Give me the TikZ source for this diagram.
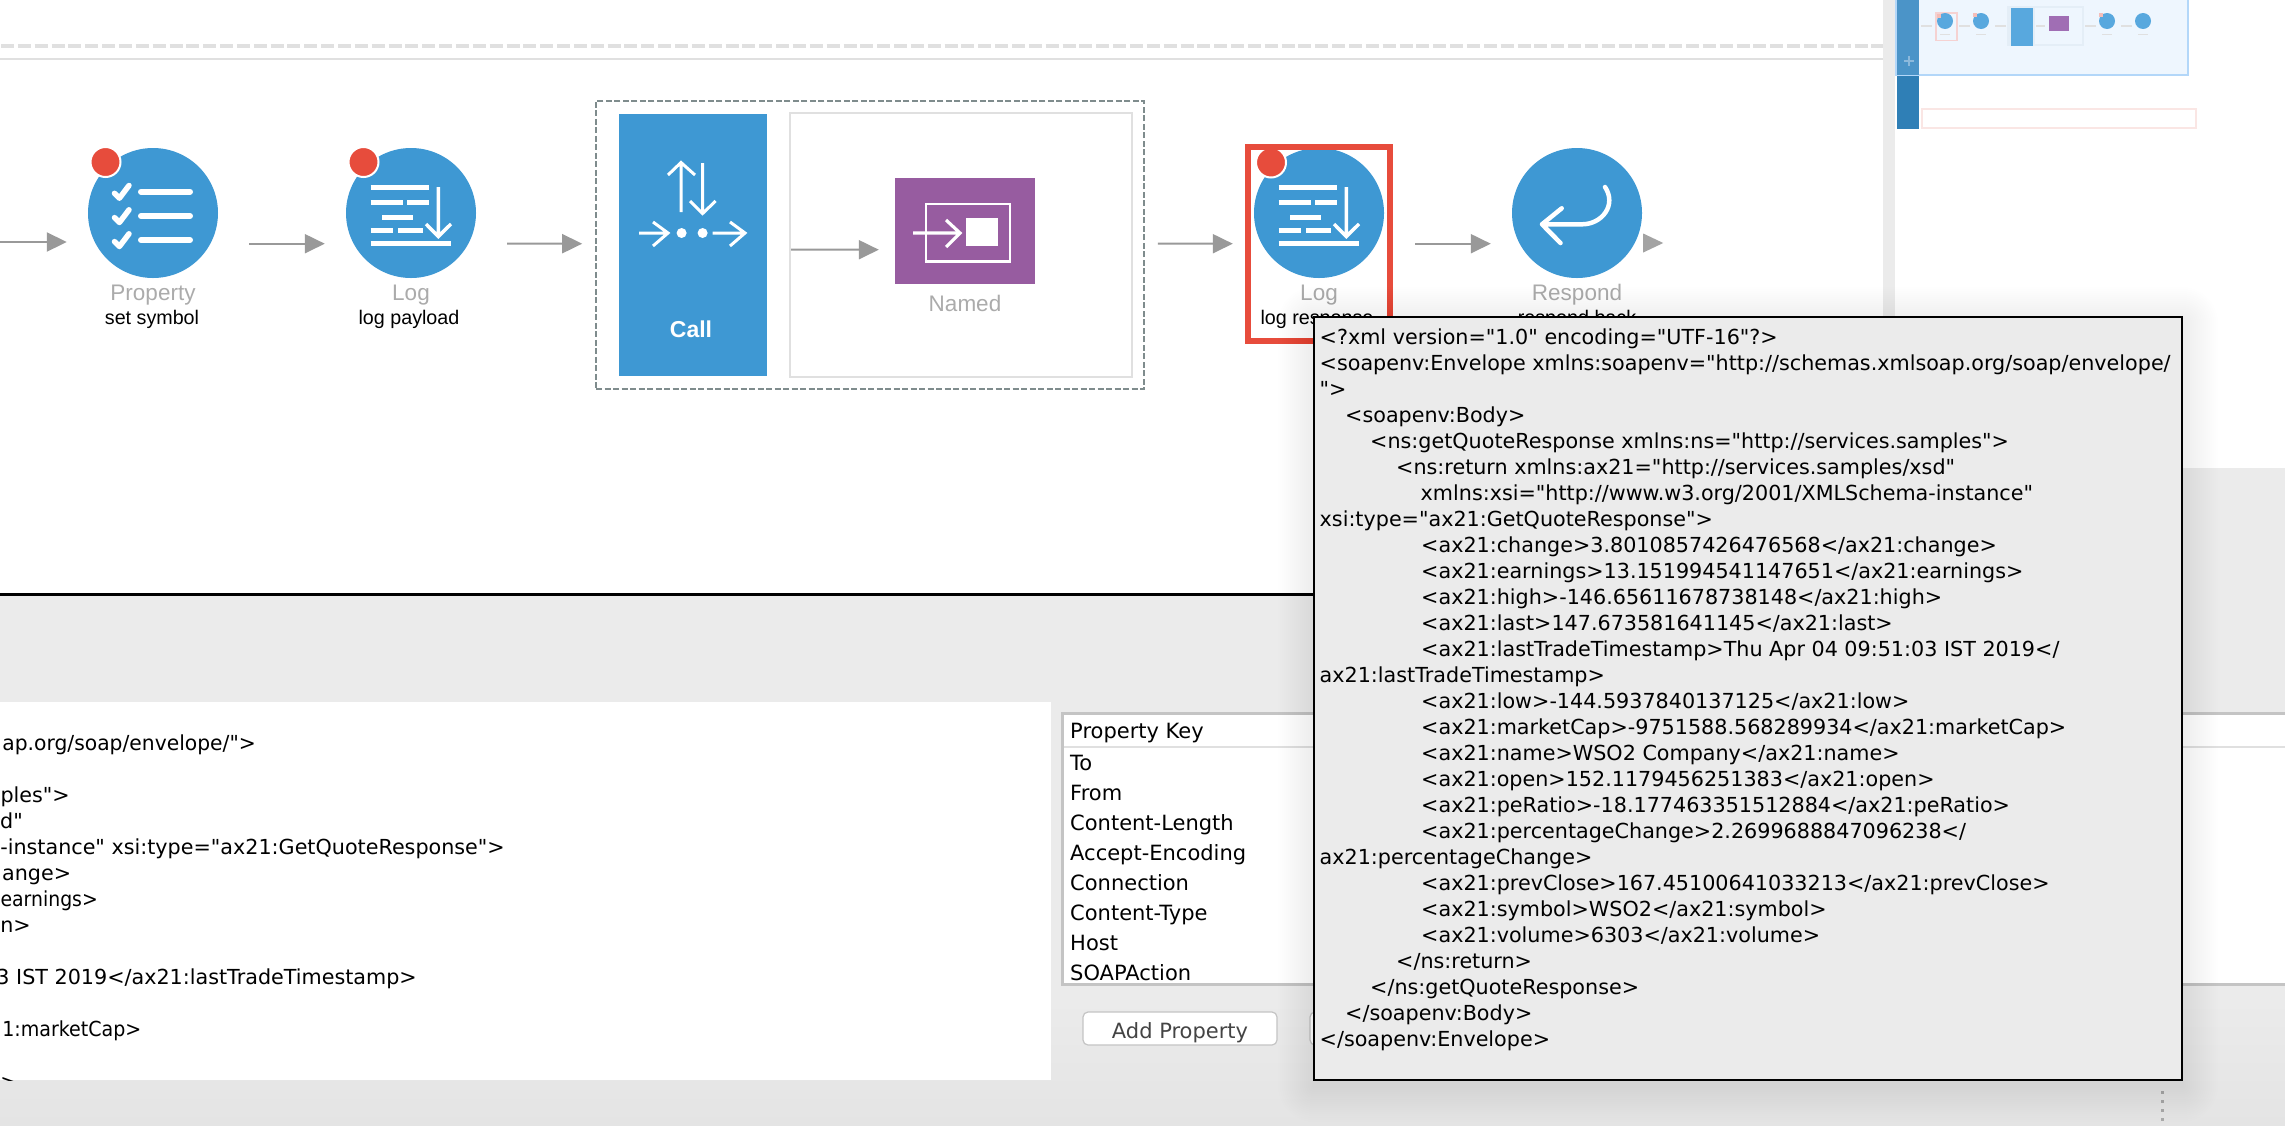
\documentclass[tikz,border=0pt]{standalone}
\usepackage{fontspec}
\usepackage{graphicx}
\setmainfont{Liberation Sans}
\newfontfamily\uisans{DejaVu Sans}
\usetikzlibrary{arrows.meta}
\definecolor{nodeblue}{HTML}{3E98D3}
\definecolor{alertred}{HTML}{E74C3C}
\definecolor{flowgray}{HTML}{999999}
\definecolor{capgray}{HTML}{ABABAB}
\definecolor{panelgray}{HTML}{EBEBEB}
\definecolor{panelgraylow}{HTML}{E4E4E4}
\definecolor{rulegray}{HTML}{E0E0E0}
\definecolor{tablegray}{HTML}{C4C4C4}
\definecolor{dashgray}{HTML}{7F8C8D}
\definecolor{callpurple}{HTML}{975CA0}
\newcommand{\fsz}[1]{\fontsize{#1pt}{#1pt}\selectfont}
\newcommand{\usz}[1]{\uisans\fontsize{#1pt}{#1pt}\selectfont}
\tikzset{
  flow/.style={draw=flowgray,line width=2pt,-{Triangle[length=20pt,width=19pt,fill=flowgray]}},
  mednode/.style={circle,fill=nodeblue,minimum size=130pt,inner sep=0pt},
  alertdot/.style={circle,fill=alertred,draw=white,line width=2pt,minimum size=30pt,inner sep=0pt},
  captype/.style={inner sep=0pt,anchor=base,text=capgray,font=\fsz{22.5}},
  capname/.style={inner sep=0pt,anchor=base,text=black,font=\fsz{19.7}},
  iconline/.style={draw=white,line width=5.5pt},
  poptxt/.style={inner sep=0pt,anchor=base west,text=black,font=\usz{20.7}},
  leftxt/.style={inner sep=0pt,anchor=base east,text=black,font=\usz{20.7}},
  tbltxt/.style={inner sep=0pt,anchor=base west,text=black,font=\usz{21}},
  logicon/.pic={
    \draw[iconline] (-40.5,-25.3)--(18,-25.3) (-40.5,-10.3)--(-8.5,-10.3) (-4,-10.3)--(18,-10.3)
      (-29,4.7)--(2,4.7) (-40.5,17.3)--(-18.4,17.3) (-13,17.3)--(12,17.3) (-40.5,30.3)--(40,30.3);
    \draw[draw=white,line width=3.5pt] (27.3,-26)--(27.3,23) (15,11)--(27.3,23.5)--(40,11);
  },
  propicon/.pic={
    \foreach \ry in {-21.3,3,27}{
      \draw[draw=white,line width=6pt,line cap=round] (-12,\ry)--(37,\ry);
      \draw[draw=white,line width=5.5pt,line cap=round,line join=round]
        (-38.5,\ry+1.6)--(-33.6,\ry+6.5)--(-24,\ry-6.2);
    }
  },
  respicon/.pic={
    \draw[draw=white,line width=4.5pt,line cap=round,line join=round]
      (-15.3,-4.7)--(-35,11.3)--(-16.5,30)
      (-35,11.3)--(5,11.3) .. controls (25,11.3) and (40,-8) .. (28,-26);
  },
  miniarrow/.style={draw=rulegray,line width=2pt}
}
\newcommand{\poptext}[3]{\node[poptxt] (p#1) at (#2,{344+(#1-1)*26.01}) {#3};}
\begin{document}
\begin{tikzpicture}[x=1pt,y=-1pt]
\useasboundingbox (0,0) rectangle (2285,1125);
% backgrounds
\fill[white] (0,0) rectangle (2285,1125);
\fill[panelgray] (0,596) rectangle (1320,1125);
\fill[panelgray] (1320,468) rectangle (2285,1125);
\shade[top color=panelgray,bottom color=panelgraylow] (0,1000) rectangle (2285,1125);
\fill[panelgray] (1883,0) rectangle (1895,468);
\draw[rulegray,line width=4pt,dash pattern=on 13pt off 3.85pt] (1,46)--(1883,46);
\draw[rulegray,line width=2pt] (0,59)--(1883,59);
\draw[black,line width=2.5pt] (0,594.7)--(1320,594.7);

% sequence
\coordinate (in0) at (0,242);
\node[mednode] (prop) at (153,213) {};
\node[mednode] (log1) at (411,213) {};
\node[mednode] (log3) at (1319,213) {};
\node[mednode] (resp) at (1577,213) {};
\pic at (prop.center) {propicon};
\pic at (log1.center) {logicon};
\pic at (log3.center) {logicon};
\pic at (resp.center) {respicon};
\node[alertdot] (dot1) at (105.5,162) {};
\node[alertdot] (dot2) at (363.5,162) {};
\node[alertdot] (dot3) at (1271,162.5) {};
\node[captype] (tprop) at (153,300) {Property};
\node[capname] (nprop) at (152,324.3) {set symbol};
\node[captype] (tlog1) at (411,300) {Log};
\node[capname] (nlog1) at (409,324.3) {log payload};
\node[captype] (tlog3) at (1319,300) {Log};
\node[capname] (nlog3) at (1317,324.3) {log response};
\node[captype] (tresp) at (1577,300) {Respond};
\node[capname] (nresp) at (1577,324.3) {respond back};
\node[draw=alertred,line width=6pt,minimum width=142pt,minimum height=194pt,inner sep=0pt] (sel) at (1319,244) {};

% call block
\node[draw=dashgray,line width=1.6pt,dash pattern=on 6pt off 2.5pt,minimum width=548pt,minimum height=288.3pt,inner sep=0pt] (dash) at (870,244.85) {};
\node[fill=nodeblue,minimum width=148pt,minimum height=262pt,inner sep=0pt] (call) at (693,245) {};
\node[draw=rulegray,line width=2.5pt,fill=white,minimum width=342pt,minimum height=264pt,inner sep=0pt] (seqbox) at (961,245) {};
\node[fill=callpurple,minimum width=140pt,minimum height=105.7pt,inner sep=0pt] (named) at (965,230.85) {};
\node[inner sep=0pt,anchor=base,text=white,font=\fsz{23}\bfseries] (tcall) at (691,337) {Call};
\node[captype] (tnamed) at (965,311.7) {Named};
% call icon
\draw[draw=white,line width=3pt] (681,212)--(681,163) (668,175)--(681,162.5)--(695,175);
\draw[draw=white,line width=3pt] (702.6,163)--(702.6,213) (690,201)--(702.6,213.5)--(715.6,201);
\draw[draw=white,line width=3pt] (639,233)--(667,233) (653,222)--(668,233)--(653,246);
\draw[draw=white,line width=3pt] (712.5,233)--(744,233) (730,222)--(745,233)--(730,246);
\fill[white] (681.6,233) circle (5) (702.6,233) circle (5);
% named icon
\draw[draw=white,line width=2.6pt] (926,204) rectangle (1010,261.7);
\fill[white] (966,218) rectangle (998,245.7);
\draw[draw=white,line width=3.2pt] (913,233)--(959,233) (946,220)--(960,233)--(946,247);

% connectors
\draw[flow] (in0) -- ([shift={(-21,29)}]prop.west);
\draw[flow] ([shift={(31,30.7)}]prop.east) -- ([shift={(-21,30.7)}]log1.west);
\draw[flow] ([shift={(31,30.7)}]log1.east) -- ([shift={(-13,-1.15)}]dash.west);
\draw[flow] ([shift={(24,4.7)}]call.east) -- ([shift={(-16,18.85)}]named.west);
\draw[flow] ([shift={(13,-1.15)}]dash.east) -- ([shift={(-21,30.7)}]log3.west);
\draw[flow] ([shift={(31,30.7)}]log3.east) -- ([shift={(-21,30.7)}]resp.west);
\fill[flowgray!90] ([shift={(1,20.5)}]resp.east) -- ([shift={(21,30)}]resp.east) -- ([shift={(1,39.5)}]resp.east) -- cycle;

% minimap
\fill[fill={rgb,255:red,238;green,246;blue,254}] (1896,0) rectangle (2188,75);
\draw[draw={rgb,255:red,179;green,215;blue,249},line width=2pt] (1896,-2) -- (1896,75) -- (2188,75) -- (2188,-2);
\fill[fill={rgb,255:red,75;green,148;blue,200}] (1897,0) rectangle (1919,75);
\fill[fill={rgb,255:red,47;green,127;blue,182}] (1897,76) rectangle (1919,129);
\draw[draw={rgb,255:red,250;green,230;blue,228},line width=2pt] (1922,109) rectangle (2196,128);
\draw[draw={rgb,255:red,140;green,185;blue,220},line width=1.5pt] (1904,61)--(1914,61) (1909,56)--(1909,66);
\draw[draw={rgb,255:red,245;green,210;blue,210},line width=1.5pt] (1936,13) rectangle (1957,40.5);
\fill[fill={rgb,255:red,228;green,238;blue,247}] (2007,6) rectangle (2084,46);
\fill[fill={rgb,255:red,238;green,246;blue,254}] (2035,8) rectangle (2082,44);
\fill[fill={rgb,255:red,88;green,168;blue,222}] (2011,8) rectangle (2033,45.7);
\fill[fill={rgb,255:red,160;green,110;blue,180}] (2049,16) rectangle (2069,31);
\foreach \mx in {1945,1981,2107,2143}{
  \fill[fill={rgb,255:red,88;green,168;blue,222}] (\mx,21) circle (8);
}
\fill[fill={rgb,255:red,245;green,190;blue,185}] (1937,14) rectangle (1941,18);
\fill[fill={rgb,255:red,245;green,190;blue,185}] (1973,13) rectangle (1977,17);
\fill[fill={rgb,255:red,245;green,190;blue,185}] (2099,13) rectangle (2103,17);
\foreach \mx in {1921,1959,1995,2085,2121}{
  \draw[miniarrow] (\mx,25.5)--(\mx+11,25.5);
}
\draw[miniarrow] (2036,26)--(2045,26);
\foreach \mx in {1945,1981,2107,2143}{
  \draw[draw=rulegray,line width=1.2pt] (\mx-5,34.5)--(\mx+5,34.5);
}

% message panel
\fill[white] (0,702) rectangle (1051,1080);
\node[leftxt] (m1) at (256,750.6) {\scalebox{0.98}[1]{ap.org/soap/envelope/">}};
\node[leftxt] (m2) at (70,802.6) {ples">};
\node[leftxt] (m3) at (23,828.6) {d"};
\node[leftxt] (m4) at (505,854.6) {-instance" xsi:type="ax21:GetQuoteResponse">};
\node[leftxt] (m5) at (71.4,880.6) {ange>};
\node[leftxt] (m6) at (98,906.6) {\scalebox{0.91}[1]{earnings>}};
\node[leftxt] (m7) at (31,932.6) {n>};
\node[leftxt] (m8) at (417,984.6) {3 IST 2019</ax21:lastTradeTimestamp>};
\node[leftxt] (m9) at (141.6,1036.6) {\scalebox{0.92}[1]{1:marketCap>}};
\begin{scope}
\clip (0,702) rectangle (1051,1080);
\node[leftxt] (m10) at (18,1089) {>};
\end{scope}

% property table
\fill[white] (1061.7,713) rectangle (2290,985);
\draw[draw=tablegray,line width=2.4pt] (2290,713.5) -- (1062.5,713.5) -- (1062.5,984.5) -- (2290,984.5);
\draw[draw=rulegray,line width=1.5pt] (1064,747) -- (2285,747);
\begin{scope}
\clip (1064,715) rectangle (2285,982);
\node[tbltxt] (h0) at (1070,738.5) {Property Key};
\node[tbltxt] (r1) at (1070,770.5) {To};
\node[tbltxt] (r2) at (1070,800.5) {From};
\node[tbltxt] (r3) at (1070,830.5) {Content-Length};
\node[tbltxt] (r4) at (1070,860.5) {Accept-Encoding};
\node[tbltxt] (r5) at (1070,890.5) {Connection};
\node[tbltxt] (r6) at (1070,920.5) {Content-Type};
\node[tbltxt] (r7) at (1070,950.5) {Host};
\node[tbltxt] (r8) at (1070,980.5) {SOAPAction};
\end{scope}
\node[draw=tablegray,fill=white,line width=1.2pt,rounded corners=5pt,minimum width=194pt,minimum height=33pt,inner sep=0pt,text height=22pt,text depth=2.4pt,text={rgb,255:red,68;green,68;blue,68},font=\usz{21}] (addp) at (1180,1028.5) {Add Property};
\node[draw=tablegray,fill=white,line width=1.2pt,rounded corners=5pt,minimum width=60pt,minimum height=33pt,inner sep=0pt] (btn2) at (1340,1028.5) {};
\foreach \ky in {1092.7,1101.7,1110.5,1119}{
  \fill[fill={rgb,255:red,170;green,170;blue,170}] (2161.2,\ky-1.5) rectangle (2164.2,\ky+1.5);
}

% popup shadow
\foreach \sd in {2,4,...,36}{
  \fill[black,opacity=0.005,rounded corners=\sd pt] ({1314-\sd},{323-\sd}) rectangle ({2182+\sd},{1086+\sd});
}
\node[draw=black,fill=panelgray,line width=2.6pt,minimum width=868pt,minimum height=763pt,inner sep=0pt] (popup) at (1748,698.5) {};
\poptext{1}{1319.5}{<?xml version="1.0" encoding="UTF-16"?>}
\poptext{2}{1319.5}{<soapenv:Envelope xmlns:soapenv="http://schemas.xmlsoap.org/soap/envelope/}
\poptext{3}{1319.5}{">}
\poptext{4}{1345}{<soapenv:Body>}
\poptext{5}{1370}{<ns:getQuoteResponse xmlns:ns="http://services.samples">}
\poptext{6}{1396}{<ns:return xmlns:ax21="http://services.samples/xsd"}
\poptext{7}{1420.5}{xmlns:xsi="http://www.w3.org/2001/XMLSchema-instance"}
\poptext{8}{1319.5}{xsi:type="ax21:GetQuoteResponse">}
\poptext{9}{1421}{<ax21:change>3.8010857426476568</ax21:change>}
\poptext{10}{1421}{<ax21:earnings>13.151994541147651</ax21:earnings>}
\poptext{11}{1421}{<ax21:high>-146.65611678738148</ax21:high>}
\poptext{12}{1421}{<ax21:last>147.673581641145</ax21:last>}
\poptext{13}{1421}{<ax21:lastTradeTimestamp>Thu Apr 04 09:51:03 IST 2019</}
\poptext{14}{1319.5}{ax21:lastTradeTimestamp>}
\poptext{15}{1421}{<ax21:low>-144.5937840137125</ax21:low>}
\poptext{16}{1421}{<ax21:marketCap>-9751588.568289934</ax21:marketCap>}
\poptext{17}{1421}{<ax21:name>WSO2 Company</ax21:name>}
\poptext{18}{1421}{<ax21:open>152.1179456251383</ax21:open>}
\poptext{19}{1421}{<ax21:peRatio>-18.177463351512884</ax21:peRatio>}
\poptext{20}{1421}{<ax21:percentageChange>2.2699688847096238</}
\poptext{21}{1319.5}{ax21:percentageChange>}
\poptext{22}{1421}{<ax21:prevClose>167.45100641033213</ax21:prevClose>}
\poptext{23}{1421}{<ax21:symbol>WSO2</ax21:symbol>}
\poptext{24}{1421}{<ax21:volume>6303</ax21:volume>}
\poptext{25}{1396}{</ns:return>}
\poptext{26}{1370}{</ns:getQuoteResponse>}
\poptext{27}{1345}{</soapenv:Body>}
\poptext{28}{1319.5}{</soapenv:Envelope>}
\end{tikzpicture}
\end{document}
